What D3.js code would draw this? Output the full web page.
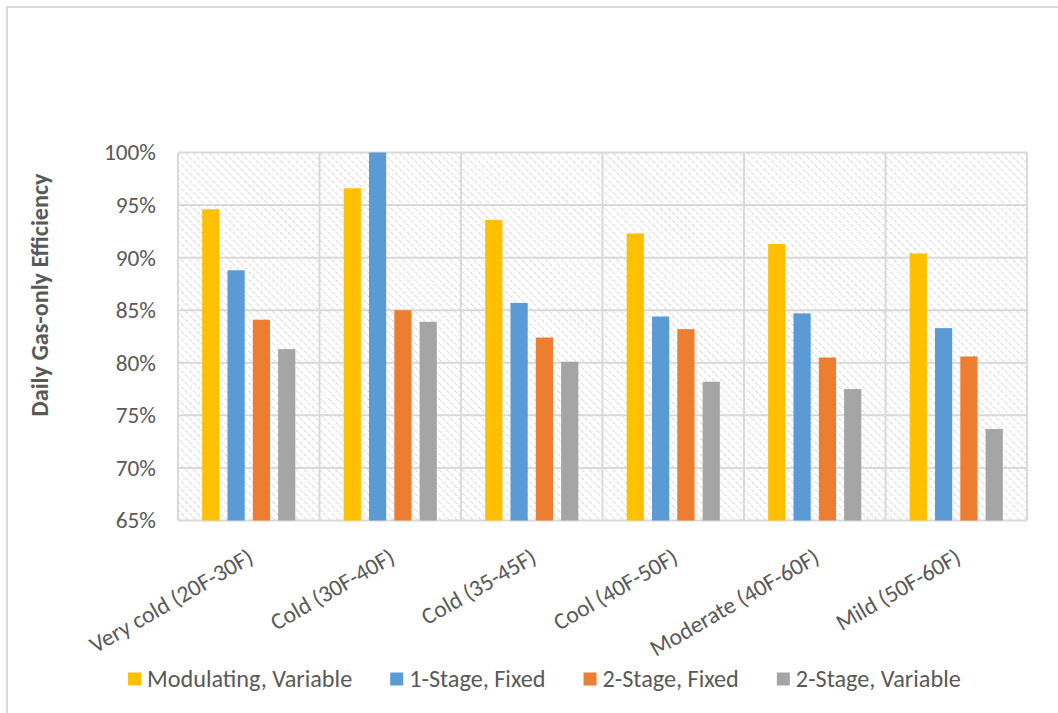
<!DOCTYPE html>
<html>
<head>
<meta charset="utf-8">
<script src="https://cdn.jsdelivr.net/npm/d3@7"></script>
<style>
  html, body { margin: 0; padding: 0; background: #fff; }
  svg { display: block; }
  text { font-family: Carlito, Calibri, Lato, sans-serif; fill: #595959; }
</style>
</head>
<body>
<svg id="chart" width="1058" height="713"></svg>
<script>
// ---- data ----
const categories = ["Very cold (20F-30F)", "Cold (30F-40F)", "Cold (35-45F)", "Cool (40F-50F)", "Moderate (40F-60F)", "Mild (50F-60F)"];
const seriesNames = ["Modulating, Variable", "1-Stage, Fixed", "2-Stage, Fixed", "2-Stage, Variable"];
const modulatingVariable = [0.946, 0.966, 0.936, 0.923, 0.913, 0.904];
const stage1Fixed        = [0.888, 1.000, 0.857, 0.844, 0.847, 0.833];
const stage2Fixed        = [0.841, 0.850, 0.824, 0.832, 0.805, 0.806];
const stage2Variable     = [0.813, 0.839, 0.801, 0.782, 0.775, 0.737];
const yTicks = [0.65, 0.70, 0.75, 0.80, 0.85, 0.90, 0.95, 1.00];
const colors = ["#FFC000", "#5B9BD5", "#ED7D31", "#A5A5A5"];

const seriesValues = [modulatingVariable, stage1Fixed, stage2Fixed, stage2Variable];

// ---- layout ----
const W = 1058, H = 713;
const plot = { left: 178, right: 1027, top: 152.5, bottom: 520.5 };
const svg = d3.select("#chart");

// helper to fit a font size so a sample string has a target width
function fitSize(sample, target, weight) {
  const t = svg.append("text").attr("font-size", 20).attr("font-weight", weight || "normal").text(sample);
  const w = t.node().getComputedTextLength();
  t.remove();
  return 20 * target / w;
}
const tickFS = fitSize("100%", 52);
const catFS = fitSize("Very cold (20F-30F)", 184);
const legFS = fitSize("2-Stage, Variable", 165);
const titleFS = fitSize("Daily Gas-only Efficiency", 243, "bold");

// outer chart border (top and left visible)
svg.append("path")
  .attr("d", `M7,${H + 5}V7H${W + 5}`)
  .attr("fill", "none").attr("stroke", "#d9d9d9").attr("stroke-width", 2);

// hatch pattern
const defs = svg.append("defs");
const pat = defs.append("pattern")
  .attr("id", "hatch").attr("patternUnits", "userSpaceOnUse")
  .attr("width", 5.6).attr("height", 5.6)
  .attr("patternTransform", "rotate(-45)");
pat.append("rect").attr("width", 5.6).attr("height", 5.6).attr("fill", "#fff");
pat.append("line").attr("x1", 0).attr("y1", 0).attr("x2", 0).attr("y2", 5.6)
  .attr("stroke", "#d2d2d2").attr("stroke-width", 1.6).attr("stroke-dasharray", "2.2 1.2");

// scales
const x0 = d3.scaleBand().domain(categories).range([plot.left, plot.right]).padding(0);
const x1 = d3.scaleBand().domain(seriesNames).range([0, x0.bandwidth()])
  .paddingInner(0.32).paddingOuter(0.955);
const y = d3.scaleLinear().domain([0.65, 1.0]).range([plot.bottom, plot.top]);

// plot background
svg.append("rect")
  .attr("x", plot.left).attr("y", plot.top)
  .attr("width", plot.right - plot.left).attr("height", plot.bottom - plot.top)
  .attr("fill", "url(#hatch)");

// gridlines
const grid = svg.append("g").attr("stroke", "#d9d9d9").attr("stroke-width", 2);
grid.selectAll("line.h").data(yTicks).join("line").attr("class", "h")
  .attr("x1", plot.left).attr("x2", plot.right)
  .attr("y1", d => y(d)).attr("y2", d => y(d));
const vBounds = categories.map(c => x0(c)).concat([plot.right]);
grid.selectAll("line.v").data(vBounds).join("line").attr("class", "v")
  .attr("y1", plot.top).attr("y2", plot.bottom)
  .attr("x1", d => d).attr("x2", d => d);

// bars
const rows = categories.map((c, i) => ({ cat: c, vals: seriesNames.map((s, j) => ({ s, j, v: seriesValues[j][i] })) }));
const gCat = svg.append("g").selectAll("g").data(rows).join("g")
  .attr("transform", d => `translate(${x0(d.cat)},0)`);
gCat.selectAll("rect").data(d => d.vals).join("rect")
  .attr("x", d => x1(d.s)).attr("width", x1.bandwidth())
  .attr("y", d => y(d.v)).attr("height", d => plot.bottom - y(d.v))
  .attr("fill", d => colors[d.j]);

// y axis
const yAxis = svg.append("g").attr("transform", `translate(${plot.left},0)`)
  .call(d3.axisLeft(y).tickValues(yTicks).tickFormat(d3.format(".0%")).tickSize(0).tickPadding(22));
yAxis.select(".domain").remove();
yAxis.selectAll("text").attr("font-size", tickFS).attr("fill", "#595959")
  .style("font-family", "Carlito, Calibri, Lato, sans-serif");

// x axis
const xAxis = svg.append("g").attr("transform", `translate(0,${plot.bottom})`)
  .call(d3.axisBottom(x0).tickSize(0));
xAxis.select(".domain").remove();
xAxis.selectAll("text")
  .attr("font-size", catFS).attr("fill", "#595959")
  .style("font-family", "Carlito, Calibri, Lato, sans-serif")
  .attr("text-anchor", "end")
  .attr("x", 0).attr("y", 0).attr("dy", "0.35em")
  .attr("transform", "translate(2,34) rotate(-30)");

// y axis title
svg.append("text")
  .attr("transform", `translate(40,295) rotate(-90)`)
  .attr("text-anchor", "middle").attr("dy", "0.35em")
  .attr("font-weight", "bold").attr("font-size", titleFS)
  .text("Daily Gas-only Efficiency");

// legend
const legend = svg.append("g");
let lx = 128;
const ly = 679;
seriesNames.forEach((s, j) => {
  legend.append("rect").attr("x", lx).attr("y", ly - 6.5).attr("width", 13).attr("height", 13).attr("fill", colors[j]);
  const t = legend.append("text").attr("x", lx + 19).attr("y", ly).attr("dy", "0.35em")
    .attr("font-size", legFS).text(s);
  lx += 19 + t.node().getComputedTextLength() + 38;
});
</script>
</body>
</html>
